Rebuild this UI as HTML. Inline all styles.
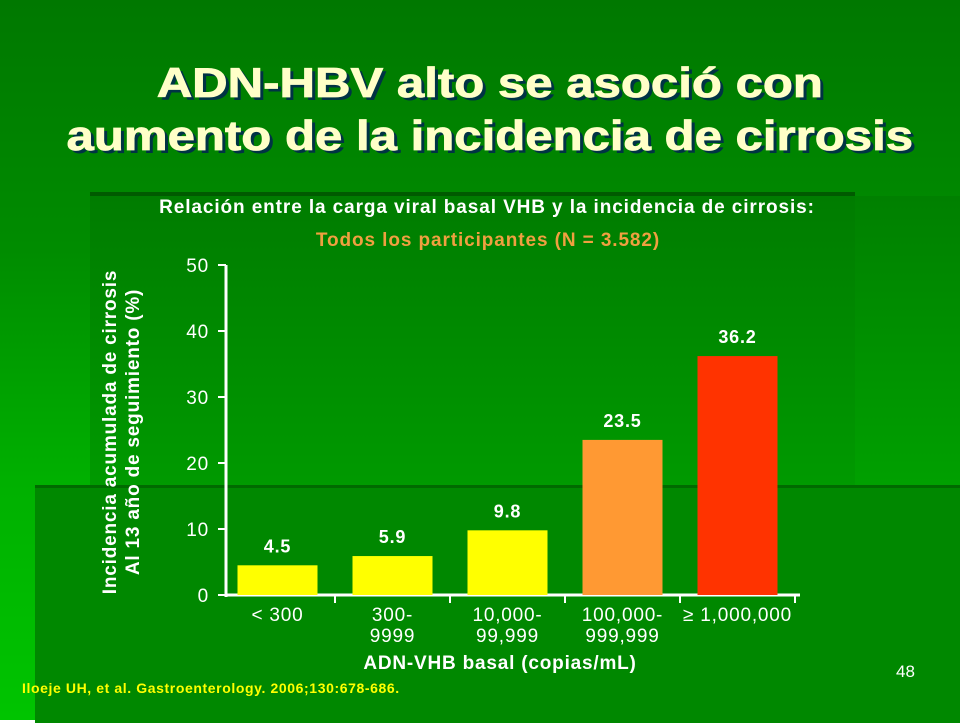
<!DOCTYPE html>
<html><head><meta charset="utf-8"><style>
body{margin:0;width:960px;height:720px;overflow:hidden;font-family:"Liberation Sans",sans-serif;}
#bg{position:absolute;left:0;top:0;width:960px;height:720px;background:linear-gradient(180deg,#007800 0px,#008c00 250px,#00b000 480px,#00c400 720px);}
.t{position:absolute;font-weight:bold;white-space:nowrap;}
</style></head><body>
<div id="bg"></div>
<div style="position:absolute;left:90px;top:192px;width:765px;height:293px;background:linear-gradient(180deg,#007c00,#009a00);border-top:4px solid #005a00;"></div>
<div style="position:absolute;left:855px;top:196px;width:105px;height:289px;background:linear-gradient(180deg,#008000,#00a000);"></div>
<div style="position:absolute;left:35px;top:485px;width:925px;height:235px;background:#008800;border-top:3px solid #006a00;"></div>
<div class="t" style="left:0;width:980px;top:56px;text-align:center;font-size:42px;line-height:53px;color:#ffffc8;text-shadow:3px 3px 0 #034;transform:scaleX(1.17);transform-origin:491px 0;-webkit-text-stroke:0.8px #ffffc8;">ADN-HBV alto se asoció con<br>aumento de la incidencia de cirrosis</div>
<div class="t" style="left:0;width:974px;top:197px;text-align:center;font-size:19px;letter-spacing:0.9px;color:#fff;">Relación entre la carga viral basal VHB y la incidencia de cirrosis:</div>
<div class="t" style="left:0;width:976px;top:230px;text-align:center;font-size:19px;letter-spacing:0.9px;color:#f0a040;">Todos los participantes (N = 3.582)</div>
<div class="t" style="left:22px;top:680px;font-size:14px;letter-spacing:0.6px;color:#ffff00;">Iloeje UH, et al. Gastroenterology. 2006;130:678-686.</div>
<div style="position:absolute;left:896px;top:662px;font-size:17px;color:#fff;">48</div>
<svg id="chart" width="960" height="720" style="position:absolute;left:0;top:0;letter-spacing:0.8px"></svg>
<script>
const categories=[["< 300"],["300-","9999"],["10,000-","99,999"],["100,000-","999,999"],["≥ 1,000,000"]];
const values=[4.5,5.9,9.8,23.5,36.2];
const labels=["4.5","5.9","9.8","23.5","36.2"];
const colors=["#ffff00","#ffff00","#ffff00","#ff9933","#ff3300"];
const yTicks=[0,10,20,30,40,50];
const svg=document.getElementById('chart');const NS='http://www.w3.org/2000/svg';
const ax=226,x0=220,bw=115,y0=595,ys=6.6;
const X=i=>x0+i*bw+bw/2, Y=v=>y0-v*ys;
function mk(t,a,txt){const e=document.createElementNS(NS,t);for(const k in a)e.setAttribute(k,a[k]);if(txt!=null)e.textContent=txt;svg.appendChild(e);return e;}
let e=mk('line',{x1:ax,y1:Y(50),x2:ax,y2:y0+2,stroke:'#fff','stroke-width':3});


e=mk('line',{x1:ax,y1:y0,x2:x0+5*bw+5,y2:y0,stroke:'#fff','stroke-width':3});


yTicks.forEach(v=>{
 e=mk('line',{x1:ax-8,y1:Y(v),x2:ax,y2:Y(v),stroke:'#fff','stroke-width':2});
 
 
 e=mk('text',{x:ax-17,y:Y(v)+7,'text-anchor':'end','font-size':19,fill:'#fff'},String(v));
 
 
});
for(let i=1;i<=5;i++){e=mk('line',{x1:x0+i*bw,y1:y0,x2:x0+i*bw,y2:y0+8,stroke:'#fff','stroke-width':2});
 
 }
values.forEach((v,i)=>{
 e=mk('rect',{x:X(i)-40,y:Y(v),width:80,height:v*ys,fill:colors[i]});
 
 
 e=mk('text',{x:X(i),y:Y(v)-13,'text-anchor':'middle','font-size':18,'font-weight':'bold',fill:'#fff'},labels[i]);
 
 
 categories[i].forEach((s,j)=>{
  e=mk('text',{x:X(i),y:621+j*21,'text-anchor':'middle','font-size':19,fill:'#fff'},s);
  
  
 });
});
e=mk('text',{x:500,y:669,'text-anchor':'middle','font-size':19,'font-weight':'bold',fill:'#fff'},'ADN-VHB basal (copias/mL)');


e=mk('text',{transform:'translate(116,432) rotate(-90)','text-anchor':'middle','font-size':19,'font-weight':'bold',fill:'#fff'},'Incidencia acumulada de cirrosis');


e=mk('text',{transform:'translate(139,432) rotate(-90)','text-anchor':'middle','font-size':19,'font-weight':'bold',fill:'#fff'},'Al 13 año de seguimiento (%)');


</script>
</body></html>
